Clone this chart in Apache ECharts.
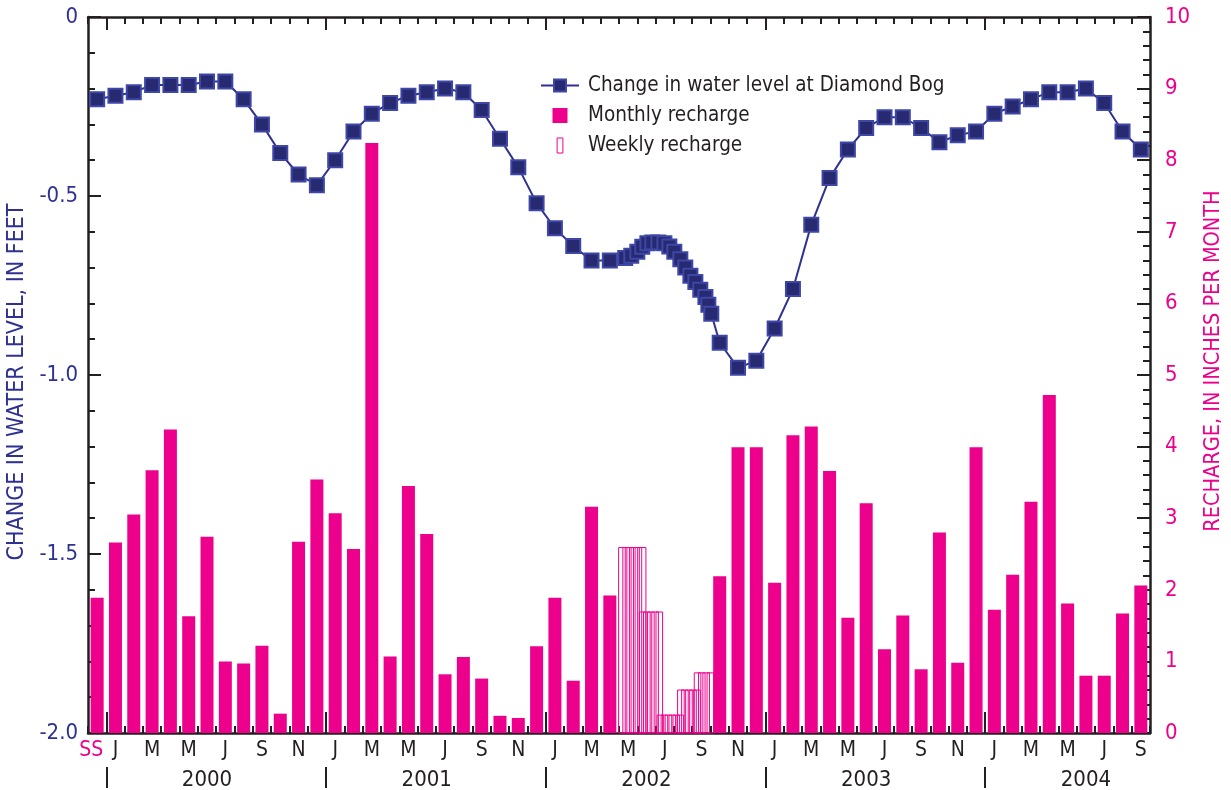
<!DOCTYPE html>
<html>
<head>
<meta charset="utf-8">
<script src="https://cdn.jsdelivr.net/npm/echarts@6/dist/echarts.min.js"></script>
<style>
  html, body { margin: 0; padding: 0; background: #fff; }
  #chart { width: 1231px; height: 790px; }
</style>
</head>
<body>
<div id="chart"></div>
<script>
// Water level at Diamond Bog vs. monthly / weekly recharge, steady state + Jan 2000 – Sep 2004
const FONT = "'Liberation Sans Narrow','DejaVu Sans Condensed',sans-serif";
const NAVY = '#2e3192';
const MAGENTA = '#ec008c';
const INK = '#231f20';

const years = ['2000', '2001', '2002', '2003', '2004'];
const monthLetters = ['J', 'F', 'M', 'A', 'M', 'J', 'J', 'A', 'S', 'O', 'N', 'D'];

// 'SS' = steady-state stress period, followed by monthly periods
const categories = ['SS'].concat(years.flatMap(y => monthLetters.map((m, i) => y + '-' + (i + 1)))).slice(0, 58);
const tickLabels = ['SS'].concat(years.flatMap(() => monthLetters)).slice(0, 58);

// Year boundaries and year-label positions, in period units (0 = SS)
const yearBoundaries = [0.5, 12.5, 24.5, 36.5, 48.5];
const yearLabelPos = [6, 18, 30, 42, 54];

// Monthly recharge, inches per month (May–Sep 2002 given weekly instead)
const monthlyRecharge = [
  1.89,
  2.66, 3.05, 3.67, 4.24, 1.63, 2.74, 1.00, 0.97, 1.22, 0.27, 2.67, 3.54,
  3.07, 2.57, 8.24, 1.07, 3.45, 2.78, 0.82, 1.06, 0.76, 0.24, 0.21, 1.21,
  1.89, 0.73, 3.16, 1.92, null, null, null, null, null, 2.19, 3.99, 3.99,
  2.10, 4.16, 4.28, 3.66, 1.61, 3.21, 1.17, 1.64, 0.89, 2.80, 0.98, 3.99,
  1.72, 2.21, 3.23, 4.72, 1.81, 0.80, 0.80, 1.67, 2.06
];

// Weekly recharge, May–Sep 2002: position in period units, inches per month
const weeklyRechargePos = [
  28.66, 28.89, 29.11, 29.34, 29.56, 29.79,
  29.79, 30.02, 30.24, 30.47, 30.70,
  30.76, 30.98, 31.20, 31.41, 31.63, 31.85,
  31.88, 32.10, 32.32, 32.54, 32.76,
  32.79, 33.02, 33.26, 33.49
];
const weeklyRecharge = [
  2.59, 2.59, 2.59, 2.59, 2.59, 2.59,
  1.69, 1.69, 1.69, 1.69, 1.69,
  0.25, 0.25, 0.25, 0.25, 0.25, 0.25,
  0.60, 0.60, 0.60, 0.60, 0.60,
  0.84, 0.84, 0.84, 0.84
];
const WEEK_BAR_WIDTH = 0.36; // in period units

// Change in water level, feet (monthly)
const waterLevel = [
  -0.23,
  -0.22, -0.21, -0.19, -0.19, -0.19, -0.18, -0.18, -0.23, -0.30, -0.38, -0.44, -0.47,
  -0.40, -0.32, -0.27, -0.24, -0.22, -0.21, -0.20, -0.21, -0.26, -0.34, -0.42, -0.52,
  -0.59, -0.64, -0.68, -0.68, null, null, null, null, null, -0.91, -0.98, -0.96,
  -0.87, -0.76, -0.58, -0.45, -0.37, -0.31, -0.28, -0.28, -0.31, -0.35, -0.33, -0.32,
  -0.27, -0.25, -0.23, -0.21, -0.21, -0.20, -0.24, -0.32, -0.37
];
// Weekly water-level readings, May–Sep 2002
const weeklyLevelPos = [
  28.84, 29.17, 29.50, 29.77, 30.05, 30.32, 30.65, 30.98, 31.25,
  31.52, 31.85, 32.12, 32.40, 32.67, 32.94, 33.22, 33.38, 33.54
];
const weeklyLevel = [
  -0.673, -0.667, -0.656, -0.642, -0.632, -0.630, -0.630, -0.632, -0.641,
  -0.656, -0.677, -0.700, -0.723, -0.740, -0.762, -0.782, -0.804, -0.829
];

const levelPoints = waterLevel
  .map((v, i) => [i, v])
  .filter(p => p[1] !== null)
  .concat(weeklyLevelPos.map((x, i) => [x, weeklyLevel[i]]))
  .sort((a, b) => a[0] - b[0]);

const weeklyPoints = weeklyRechargePos.map((x, i) => [x, weeklyRecharge[i]]);

const tickLine = { color: INK, width: 2 };
const axisLine = { show: true, onZero: false, lineStyle: { color: INK, width: 2.5 } };
const noLine = { show: false, onZero: false };
const SPAN = { min: -0.5, max: 57.5 };

// value axis used only to draw ticks / labels at given period positions
function markAxis(position, offset, tickLen, inside, labels) {
  return Object.assign({
    type: 'value', position: position, offset: offset,
    axisLine: noLine,
    axisTick: { show: true, inside: inside, length: tickLen, lineStyle: tickLine, customValues: yearBoundaries },
    axisLabel: labels || { show: false },
    splitLine: { show: false }
  }, SPAN);
}

const chart = echarts.init(document.getElementById('chart'));
chart.setOption({
  animation: false,
  backgroundColor: '#fff',
  textStyle: { fontFamily: FONT },
  grid: { left: 88, right: 81, top: 17, bottom: 57, outerBoundsMode: 'none', containLabel: false },
  legend: {
    orient: 'vertical',
    left: 535,
    top: 70,
    itemWidth: 38,
    itemHeight: 15,
    itemGap: 9,
    textStyle: { fontFamily: FONT, fontSize: 20.5, color: INK, padding: [0, 0, 0, 4] },
    data: [
      { name: 'Change in water level at Diamond Bog' },
      { name: 'Monthly recharge', icon: 'path://M0,0H10V10H0Z' },
      { name: 'Weekly recharge', icon: 'path://M0,0H5V13H0Z',
        itemStyle: { color: '#fff', borderColor: MAGENTA, borderWidth: 1 } }
    ]
  },
  xAxis: [
    { // month letters, bottom frame
      type: 'category', position: 'bottom', data: categories, boundaryGap: true,
      axisLine: axisLine,
      axisTick: { show: true, inside: true, length: 7, interval: 0, lineStyle: tickLine },
      axisLabel: {
        interval: i => i === 0 || i % 2 === 1,
        formatter: (v, i) => i === 0 ? '{ss|SS}' : tickLabels[i],
        fontFamily: FONT, fontSize: 21, color: INK, margin: 7,
        rich: { ss: { color: MAGENTA, fontFamily: FONT, fontSize: 21, padding: [0, 12, 0, 0] } }
      },
      splitLine: { show: false }
    },
    Object.assign({ // continuous period scale for line and weekly bars
      type: 'value', show: false, axisLine: noLine
    }, SPAN),
    markAxis('bottom', 0, 21, true),
    { // top frame
      type: 'category', position: 'top', data: categories, boundaryGap: true,
      axisLine: axisLine,
      axisTick: { show: true, inside: true, length: 7, interval: 0, lineStyle: tickLine },
      axisLabel: { show: false }, splitLine: { show: false }
    },
    markAxis('top', 0, 13, true),
    markAxis('bottom', 34, 21, false, {
      show: true,
      customValues: yearLabelPos,
      formatter: v => years[yearLabelPos.indexOf(v)],
      fontFamily: FONT, fontSize: 22, color: INK, margin: 2
    })
  ],
  yAxis: [
    {
      type: 'value', position: 'left', min: -2, max: 0, interval: 0.5,
      axisLine: axisLine,
      axisTick: { show: true, inside: true, length: 13, lineStyle: tickLine },
      minorTick: { show: true, splitNumber: 5, length: 7, lineStyle: tickLine },
      splitLine: { show: false },
      axisLabel: {
        formatter: v => v === 0 ? '0' : v.toFixed(1),
        fontFamily: FONT, fontSize: 22, color: NAVY, margin: 10
      },
      name: 'CHANGE IN WATER LEVEL, IN FEET',
      nameLocation: 'middle', nameRotate: 90, nameGap: 47,
      nameTextStyle: { fontFamily: FONT, fontSize: 23, color: NAVY, padding: [0, 14, 0, 0] }
    },
    {
      type: 'value', position: 'right', min: 0, max: 10, interval: 1,
      axisLine: axisLine,
      axisTick: { show: true, inside: true, length: 13, lineStyle: tickLine },
      minorTick: { show: true, splitNumber: 5, length: 7, lineStyle: tickLine },
      splitLine: { show: false },
      axisLabel: { fontFamily: FONT, fontSize: 22, color: MAGENTA, margin: 15 },
      name: 'RECHARGE, IN INCHES PER MONTH',
      nameLocation: 'middle', nameRotate: 90, nameGap: 52,
      nameTextStyle: { fontFamily: FONT, fontSize: 21.5, color: MAGENTA, padding: [0, 0, 0, 28] }
    }
  ],
  series: [
    {
      name: 'Monthly recharge', type: 'bar',
      xAxisIndex: 0, yAxisIndex: 1,
      data: monthlyRecharge, barWidth: 13,
      itemStyle: { color: MAGENTA }, z: 2
    },
    {
      name: 'Weekly recharge', type: 'custom',
      xAxisIndex: 1, yAxisIndex: 1,
      data: weeklyPoints, encode: { x: 0, y: 1 },
      itemStyle: { color: '#fff', borderColor: MAGENTA, borderWidth: 1 },
      renderItem: (params, api) => {
        const x = api.value(0), v = api.value(1);
        const p0 = api.coord([x - WEEK_BAR_WIDTH / 2, v]);
        const p1 = api.coord([x + WEEK_BAR_WIDTH / 2, 0]);
        return {
          type: 'rect',
          shape: { x: p0[0], y: p0[1], width: p1[0] - p0[0], height: p1[1] - p0[1] },
          style: { fill: 'rgba(255,255,255,0)', stroke: MAGENTA, lineWidth: 1 }
        };
      },
      z: 3
    },
    {
      name: 'Change in water level at Diamond Bog', type: 'line',
      xAxisIndex: 1, yAxisIndex: 0,
      data: levelPoints,
      symbol: 'rect', symbolSize: 14,
      itemStyle: { color: '#272a70', borderColor: '#3f47a6', borderWidth: 2 },
      lineStyle: { color: NAVY, width: 2 },
      z: 5
    }
  ]
});
</script>
</body>
</html>
